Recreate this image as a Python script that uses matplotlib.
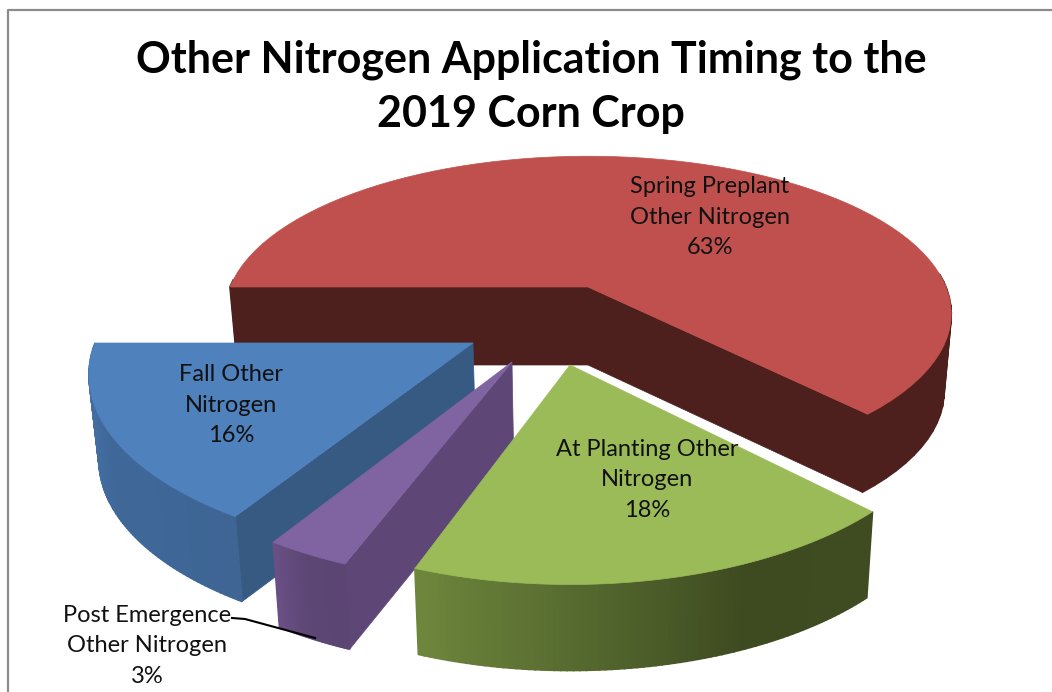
import numpy as np
from matplotlib import pyplot as plt
from matplotlib.colors import to_rgb
from matplotlib.patches import Polygon

plt.rcParams['font.family'] = ['Lato', 'DejaVu Sans']

title = "Other Nitrogen Application Timing to the\n2019 Corn Crop"

# same order as the pie goes round, counter clockwise from the left
categories = ["Fall Other\nNitrogen", "Post Emergence\nOther Nitrogen",
              "At Planting Other\nNitrogen", "Spring Preplant\nOther Nitrogen"]
values = [16, 3, 18, 63]

# apex x, apex y, half width, half height, perspective, depth (pixels), turn (degrees)
shapes = [(473, 343, 378, 175, .176, 85, 0),
          (512, 362, 378, 181, .18, 85, 0),
          (570, 365, 375, 180, .18, 86, 1.5),
          (588, 287, 358, 153, .17, 78, 0)]
tops = ['#4F81BD', '#8064A2', '#9BBB59', '#C0504D']
walls = ['#375A83', '#5E4776', '#3F4E20', '#4D1F1D']
outer = [['#4A78B1', '#3F6899', '#3E6594'],
         ['#6A5086', '#5C4674', '#5B4572'],
         ['#6E863C', '#55692F', '#3E4A20', '#3F4B20'],
         ['#4D1F1D', '#4D1F1D']]
label_pos = [(231, 405), (147, 646), (647, 480), (710, 217)]


def top_point(shape, r, angle):
    ax_, ay, a, b, k = shape[:5]
    angle = angle + np.radians(shape[6])
    u, v = r * np.cos(angle), r * np.sin(angle)
    s = 1 + k * v
    return ax_ + a * u / s, ay - b * v / s


def bottom_point(shape, x, y):
    return x + (588 - x) * .02, y + shape[5]


def gradient(colors, t):
    rgb = np.array([to_rgb(c) for c in colors])
    pos = np.linspace(0, 1, len(colors))
    return [np.interp(t, pos, rgb[:, i]) for i in range(3)]


def draw_wedge(ax, i, start, end, z):
    shape = shapes[i]
    angles = np.linspace(start, end, 80)
    apex = top_point(shape, 0, 0)
    apex_low = bottom_point(shape, *apex)

    # flat side walls, only those that look towards us
    for angle, front in ((start, np.cos(start) > 0), (end, np.cos(end) < 0)):
        if front:
            p = top_point(shape, 1, angle)
            ax.add_patch(Polygon([apex, p, bottom_point(shape, *p), apex_low],
                                 fc=walls[i], ec=walls[i], lw=.5, zorder=z))

    # round outer wall in thin strips for the shading
    for j in range(len(angles) - 1):
        if np.sin(angles[j]) > .05 and np.sin(angles[j + 1]) > .05:
            continue
        p0 = top_point(shape, 1, angles[j])
        p1 = top_point(shape, 1, angles[j + 1])
        c = gradient(outer[i], j / (len(angles) - 2))
        ax.add_patch(Polygon([p0, p1, bottom_point(shape, *p1), bottom_point(shape, *p0)],
                             fc=c, ec=c, lw=1.2, zorder=z + 1))

    pts = [apex] + [top_point(shape, 1, a) for a in angles]
    ax.add_patch(Polygon(pts, fc=tops[i], ec=tops[i], lw=.5, zorder=z + 2))


fig = plt.figure(figsize=(10.52, 6.92), dpi=100)
ax = fig.add_axes([0, 0, 1, 1])
ax.set_xlim(0, 1052)
ax.set_ylim(692, 0)
ax.axis('off')

# the red slice goes behind, so it is drawn first
spans = np.radians(np.array(values) * 3.6)
starts = np.pi + np.concatenate(([0], np.cumsum(spans)[:-1]))
for z, i in enumerate([3, 0, 1, 2]):
    draw_wedge(ax, i, starts[i], starts[i] + spans[i], z * 3 + 1)

for i in range(len(values)):
    ax.text(label_pos[i][0], label_pos[i][1], categories[i] + "\n%d%%" % values[i],
            ha='center', va='center', fontsize=17, color='#111111',
            linespacing=1.58, zorder=30)

# leader line of the small slice
ax.plot([232, 245, 315], [618, 619, 638], color='black', lw=1.5, zorder=31)

ax.text(531, 87, title, ha='center', va='center', fontsize=31, fontweight='bold',
        color='black', linespacing=1.42, zorder=30)

# what is left of the chart frame
ax.plot([8, 8, 1052], [692, 10, 10], color='#8c8c8c', lw=1.6, zorder=32, clip_on=False)

fig.savefig('out.png', dpi=100)
